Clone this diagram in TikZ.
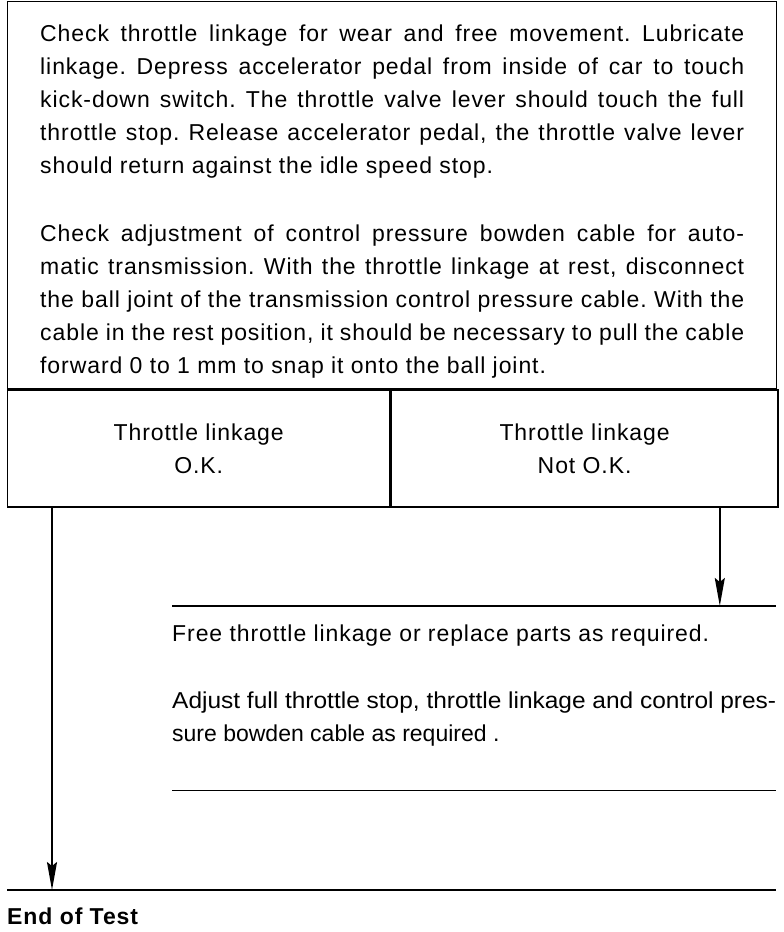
\documentclass[tikz,border=0pt]{standalone}
\usepackage{graphicx}
\usepackage{fontspec}
\setmainfont{Liberation Sans}[LetterSpace=4]
\newfontfamily\plainface{Liberation Sans}
\usetikzlibrary{arrows.meta, positioning, calc}
\newcommand\bodysize{\fontsize{23}{33}\selectfont}
\tikzset{
  >={Stealth[length=28pt, width=10pt, inset=4pt]},
  panel/.style={draw, line width=1.4pt, font=\bodysize, anchor=north west,
    execute at begin node={\parindent=0pt\tolerance=9999\hbadness=10000\frenchspacing}},
  cell/.style={panel, align=center, minimum height=117pt, inner sep=0pt},
  note/.style={font=\bodysize, anchor=north west, inner sep=0pt, align=justify,
    execute at begin node={\parindent=0pt\tolerance=9999\hbadness=10000\frenchspacing}},
  rule/.style={line width=1.4pt},
  flow/.style={->, line width=2pt},
}
\begin{document}
\begin{tikzpicture}[x=1pt, y=-1pt]
  \useasboundingbox (0,0) rectangle (784,932);

  % The check to make, and its two outcomes.
  \node[panel, text width=704pt, inner xsep=32.5pt, inner ysep=10pt, align=justify] (check) at (7,1)
    {\rule{0pt}{30pt}Check throttle linkage for wear and free movement. Lubricate\linebreak
     linkage. Depress accelerator pedal from inside of car to touch\linebreak
     kick-down switch. The throttle valve lever should touch the full\linebreak
     throttle stop. Release accelerator pedal, the throttle valve lever\linebreak
     should return against the idle speed stop.\par\vspace{35pt}
     Check adjustment of control pressure bowden cable for auto-\linebreak
     matic transmission. With the throttle linkage at rest, disconnect\linebreak
     the ball joint of the transmission control pressure cable. With the\linebreak
     cable in the rest position, it should be necessary to pull the cable\linebreak
     forward 0 to 1 mm to snap it onto the ball joint.\rule[-5pt]{0pt}{5pt}};
  \node[cell, minimum width=382pt] (ok) at (check.south west) {Throttle linkage\\O.K.};
  \node[cell, minimum width=387pt] (notok) at (ok.north east) {Throttle linkage\\Not O.K.};

  % Repair, between its two rules.
  \node[note, text width=604pt] (fix) at (172,606)
    {\rule{0pt}{35pt}Free throttle linkage or replace parts as required.\par\vspace{34pt}
     {\plainface\resizebox{\linewidth}{\height}{Adjust full throttle stop, throttle linkage and control pres-}\par
     sure bowden cable as required .}\rule[-49pt]{0pt}{49pt}};
  \draw[rule] (fix.north west) -- (fix.north east);
  \draw[rule] (fix.south west) -- (fix.south east);

  \node[note, text width=769pt] (endtest) at (7,890)
    {\rule{0pt}{34pt}\bfseries End of Test};
  \draw[rule] (endtest.north west) -- (endtest.north east);

  \coordinate (okleg) at ([xshift=45pt]ok.south west);
  \coordinate (badleg) at ([xshift=-59pt]notok.south east);
  \draw[flow] (okleg) -- (okleg |- endtest.north);
  \draw[flow] (badleg) -- (badleg |- fix.north);
\end{tikzpicture}
\end{document}
